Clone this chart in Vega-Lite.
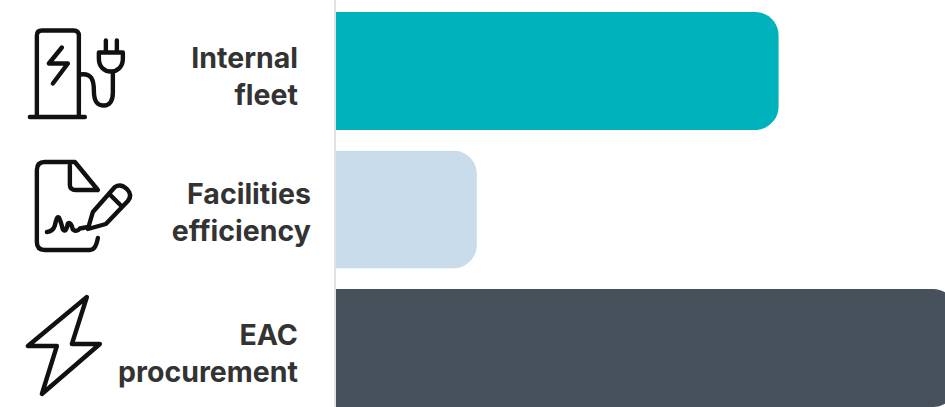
{
  "$schema": "https://vega.github.io/schema/vega-lite/v6.json",
  "width": 945,
  "height": 407,
  "autosize": {"type": "none"},
  "padding": 0,
  "background": "#ffffff",
  "view": {"stroke": null},
  "config": {"axis": {"grid": false}},
  "data": {
    "values": [
      {"initiative": "Internal fleet", "label": "Internal\nfleet", "share": 71.3},
      {"initiative": "Facilities efficiency", "label": "Facilities\nefficiency", "share": 22.7},
      {"initiative": "EAC procurement", "label": "EAC\nprocurement", "share": 100}
    ]
  },
  "encoding": {
    "y": {
      "field": "initiative",
      "type": "nominal",
      "axis": null,
      "scale": {
        "domain": ["Internal fleet", "Facilities efficiency", "EAC procurement"],
        "paddingInner": 0.148,
        "paddingOuter": 0.0433,
        "align": 1,
        "round": false
      }
    }
  },
  "layer": [
    {
      "mark": {"type": "bar", "cornerRadiusEnd": 24},
      "encoding": {
        "x": {"field": "share", "type": "quantitative", "axis": null, "scale": {"domain": [-54.1, 98.07], "nice": false, "zero": false}},
        "color": {
          "field": "initiative",
          "type": "nominal",
          "legend": null,
          "scale": {
            "domain": ["Internal fleet", "Facilities efficiency", "EAC procurement"],
            "range": ["#00b2bb", "#c9dceb", "#47515b"]
          }
        }
      }
    },
    {
      "mark": {"type": "rule", "stroke": "#e2e2e2", "strokeWidth": 2},
      "encoding": {"x": {"datum": -0.16}, "y": {"value": 0}, "y2": {"value": 407}}
    },
    {
      "mark": {"type": "point", "filled": false, "size": 4, "stroke": "#111111", "strokeWidth": 4.4, "opacity": 1, "strokeJoin": "round", "strokeCap": "round"},
      "encoding": {
        "x": {"datum": -41.4},
        "shape": {
          "field": "initiative",
          "type": "nominal",
          "legend": null,
          "scale": {
            "domain": ["Internal fleet", "Facilities efficiency", "EAC procurement"],
            "range": [
              "M-49 46H6M-42 46V-35.5Q-42 -40.5 -37 -40.5H-5Q0 -40.5 0 -35.5V46M-17 -23.5L-30 -7.5H-11L-26 12.5M1 3.5C13 1.5 15 9.5 15 19.5C15 32.5 20 34.5 25 34.5C31 34.5 34 29.5 34 21.5V1.5M20 -18.5H44V-12.5C44 -4.5 39 0.5 32 0.5C25 0.5 20 -4.5 20 -12.5ZM27 -30.5V-18.5M38 -30.5V-18.5",
              "M19 28.5Q17 40.5 11 40.5H-34Q-42 40.5 -42 32.5V-39.5Q-42 -47.5 -34 -47.5H-4L19 -19.5H-3Q-9 -19.5 -9 -24.5V-44M9 19.5L14 2.5L36 -22.5Q42 -26.5 48 -20.5Q54 -14.5 49 -8.5L27 14.5ZM30 -16L43 -3M-32 22.5Q-26 22 -24 16Q-22 6 -20 8Q-18 12 -16 20Q-13 24 -11 14Q-8 12 -6 20Q-2 23 1 19L9 17.5",
              "M8 -51L-51 -2H-22L-37 46L21 -4H-7Z"
            ]
          }
        }
      }
    },
    {
      "transform": [{"filter": "datum.initiative !== 'Facilities efficiency'"}],
      "mark": {"type": "text", "align": "right", "baseline": "middle", "lineBreak": "\n", "lineHeight": 37, "font": "Inter", "fontSize": 28.5, "fontWeight": 700, "color": "#333333", "dy": -11.5},
      "encoding": {"x": {"datum": -6.12}, "text": {"field": "label"}}
    },
    {
      "transform": [{"filter": "datum.initiative === 'Facilities efficiency'"}],
      "mark": {"type": "text", "align": "right", "baseline": "middle", "lineBreak": "\n", "lineHeight": 37, "font": "Inter", "fontSize": 28.5, "fontWeight": 700, "color": "#333333", "dy": -14.5},
      "encoding": {"x": {"datum": -4.03}, "text": {"field": "label"}}
    }
  ]
}
